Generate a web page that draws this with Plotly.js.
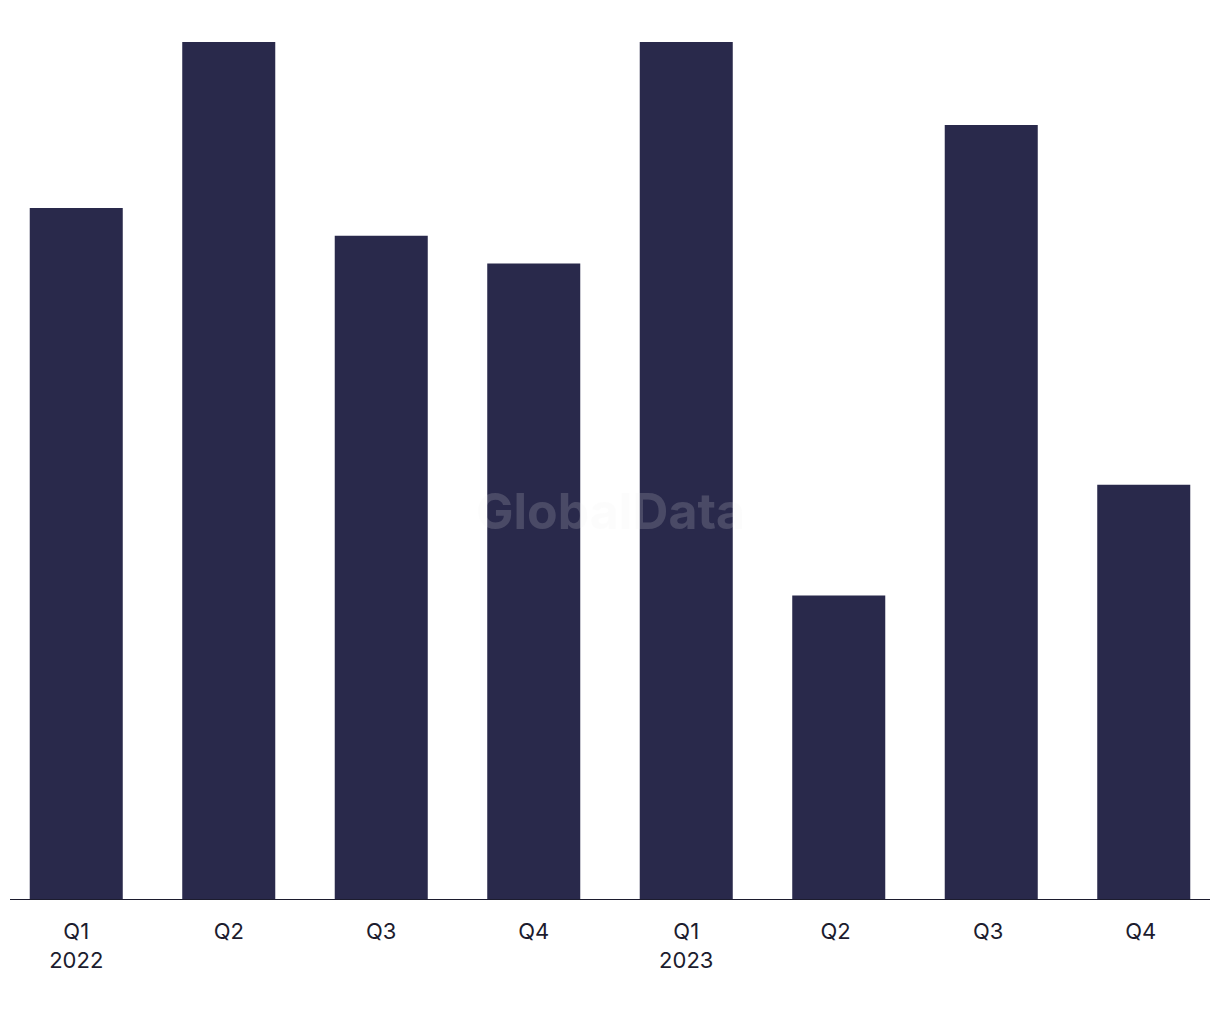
<!DOCTYPE html>
<html>
<head>
<meta charset="utf-8">
<script src="https://cdn.plot.ly/plotly-3.0.1.min.js"></script>
<style>html,body{margin:0;padding:0;background:#fff;}#chart{width:1220px;height:1020px;}</style>
</head>
<body>
<div id="chart"></div>
<script>
const quarters = ["Q1<br>2022", "Q2", "Q3", "Q4", "Q1<br>2023", "Q2 ", "Q3 ", "Q4 "];
const dealCounts = [25, 31, 24, 23, 31, 11, 28, 15];

const trace = {
  type: "bar",
  x: [0,1,2,3,4,5,6,7],
  y: dealCounts,
  width: 0.61,
  marker: {color: "#29294b"},
  hoverinfo: "y"
};

const layout = {
  width: 1220, height: 1020,
  margin: {l: 0, r: 0, t: 42, b: 120},
  paper_bgcolor: "#ffffff",
  plot_bgcolor: "#ffffff",
  showlegend: false,
  font: {family: "Inter, 'Liberation Sans', sans-serif", color: "#1c1c2e", size: 22},
  xaxis: {
    range: [-0.5, 7.5],
    tickmode: "array",
    tickvals: [0,1,2,3,4,5,6,7],
    ticktext: quarters,
    showline: false, showgrid: false, zeroline: false,
    ticks: "", ticklabelstandoff: 16,
    tickfont: {size: 22, color: "#1c1c2e"}
  },
  yaxis: {
    range: [0, 31],
    visible: false, showgrid: false, zeroline: false
  },
  shapes: [{
    type: "line", xref: "paper", yref: "y",
    x0: 10/1220, x1: 1210/1220, y0: 0, y1: 0,
    line: {color: "#1c1c2e", width: 2}
  }],
  annotations: [{
    text: "<b>GlobalData</b>", xref: "paper", yref: "paper",
    x: 0.5, y: (900-511)/858, showarrow: false,
    font: {family: "Inter, 'Liberation Sans', sans-serif", size: 50, color: "rgba(235,235,240,0.17)"}
  }]
};

Plotly.newPlot("chart", [trace], layout, {displayModeBar: false, staticPlot: true});
</script>
</body>
</html>
